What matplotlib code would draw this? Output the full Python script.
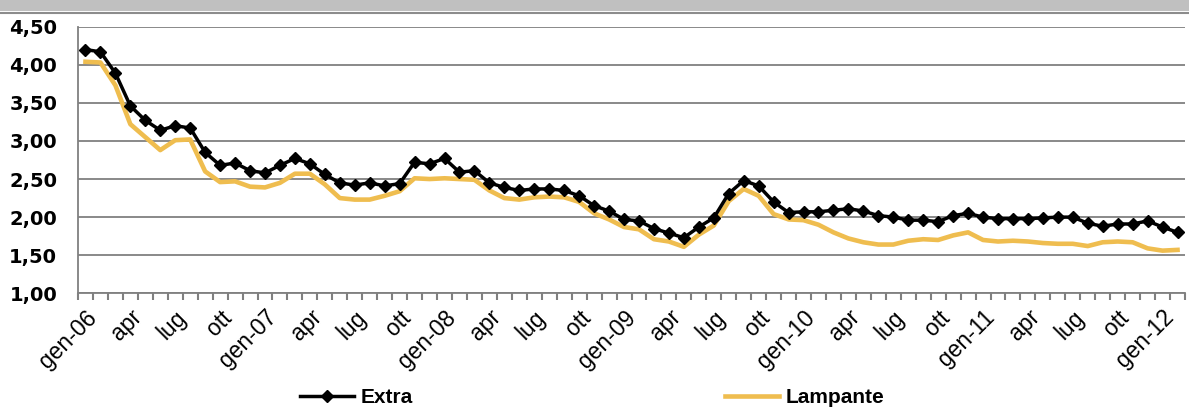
import matplotlib.pyplot as plt
from matplotlib.patches import Rectangle
from matplotlib.lines import Line2D
import numpy as np

# prezzi mensili gen-06 .. feb-12
extra = [4.20, 4.17, 3.89, 3.46, 3.27, 3.14, 3.20, 3.17, 2.85, 2.68, 2.71, 2.61,
         2.58, 2.68, 2.77, 2.70, 2.56, 2.45, 2.42, 2.45, 2.41, 2.44, 2.72, 2.70,
         2.77, 2.59, 2.61, 2.45, 2.39, 2.35, 2.37, 2.37, 2.35, 2.28, 2.15, 2.08,
         1.97, 1.95, 1.85, 1.79, 1.73, 1.87, 1.99, 2.31, 2.48, 2.41, 2.20, 2.06,
         2.07, 2.07, 2.09, 2.11, 2.08, 2.02, 2.00, 1.96, 1.96, 1.94, 2.02, 2.05,
         2.00, 1.98, 1.98, 1.98, 1.99, 2.00, 2.00, 1.92, 1.88, 1.91, 1.91, 1.95,
         1.87, 1.80]
lampante = [4.04, 4.03, 3.73, 3.22, 3.05, 2.88, 3.01, 3.02, 2.60, 2.46, 2.47, 2.40,
            2.39, 2.45, 2.57, 2.57, 2.43, 2.25, 2.23, 2.23, 2.28, 2.34, 2.51, 2.50,
            2.51, 2.50, 2.49, 2.35, 2.25, 2.23, 2.26, 2.27, 2.26, 2.20, 2.05, 1.97,
            1.87, 1.84, 1.71, 1.68, 1.61, 1.77, 1.89, 2.21, 2.37, 2.28, 2.04, 1.97,
            1.96, 1.90, 1.80, 1.72, 1.67, 1.64, 1.64, 1.69, 1.71, 1.70, 1.76, 1.80,
            1.70, 1.68, 1.69, 1.68, 1.66, 1.65, 1.65, 1.62, 1.67, 1.68, 1.67, 1.59,
            1.56, 1.57]
mesi = ['gen', 'apr', 'lug', 'ott']
anni = ['06', '07', '08', '09', '10', '11', '12']

etichette = []
for a in anni:
    for m in mesi:
        etichette.append(m + '-' + a if m == 'gen' else m)
etichette = etichette[:25]

x = np.arange(len(extra))
oro = '#EFBD4F'
grigio = '#808080'

fig = plt.figure(figsize=(11.89, 4.08), dpi=100)
# banda grigia in alto
fig.patches.append(Rectangle((0, 1 - 11 / 408), 1, 11 / 408, transform=fig.transFigure,
                             facecolor='#C0C0C0', edgecolor='none'))
fig.lines.append(Line2D([0, 1], [1 - 13 / 408, 1 - 13 / 408], transform=fig.transFigure,
                        color='#8C8C8C', lw=1.5))

ax = fig.add_axes([78 / 1189, 1 - 293.3 / 408, 1107 / 1189, 266.6 / 408])
ax.plot(x, lampante, color=oro, lw=3.3, label='Lampante', zorder=3)
ax.plot(x, extra, color='black', lw=2.5, marker='D', ms=6.5, label='Extra', zorder=4)

ax.set_xlim(-0.5, len(extra) - 0.5)
ax.set_ylim(1.0, 4.5)
yt = np.arange(1.0, 4.51, 0.5)
ax.set_yticks(yt)
ax.set_yticklabels([('%.2f' % v).replace('.', ',') for v in yt],
                   fontfamily='DejaVu Sans', fontweight='bold', fontsize=14)
ax.tick_params(axis='y', length=0, pad=15)
ax.grid(axis='y', color=grigio, lw=1.3)
ax.set_axisbelow(True)

ax.set_xticks(np.arange(0, 73, 3))
ax.set_xticklabels(etichette, rotation=45, ha='right', va='top', rotation_mode='anchor',
                   fontfamily='Liberation Sans', fontsize=16.5)
ax.set_xticks(np.arange(-0.5, len(extra), 1), minor=True)
ax.tick_params(axis='x', which='major', length=0, pad=9)
ax.tick_params(axis='x', which='minor', length=5, width=1.5, color=grigio, direction='out')

for s in ['top', 'right']:
    ax.spines[s].set_visible(False)
for s in ['left', 'bottom']:
    ax.spines[s].set_color(grigio)
    ax.spines[s].set_linewidth(1.3)

h, l = ax.get_legend_handles_labels()
fig.legend(h[::-1], l[::-1], loc='center', bbox_to_anchor=(0.498, 0.025), ncol=2,
           frameon=False, borderpad=0, handlelength=2.6, handletextpad=0.3,
           columnspacing=15, prop={'family': 'Liberation Sans', 'weight': 'bold', 'size': 15})

fig.savefig('out.png', dpi=100)
